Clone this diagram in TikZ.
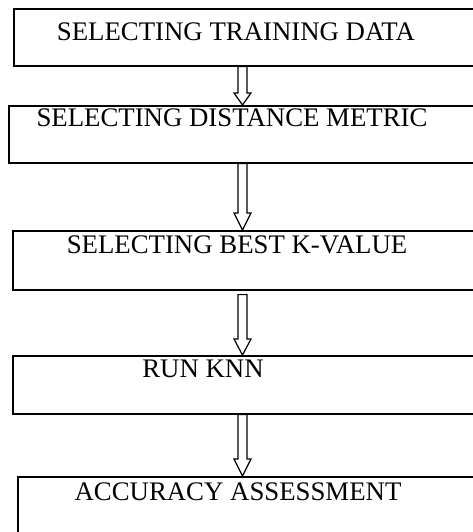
\documentclass[tikz,border=0pt]{standalone}
\usepackage{fontspec}
\setmainfont{Liberation Serif}
\usetikzlibrary{calc}
\begin{document}
\begin{tikzpicture}[x=1pt,y=-1pt,
  box/.style={draw, line width=1.6pt, rectangle, anchor=north west, inner sep=0pt, minimum width=480pt},
  lbl/.style={font=\fontsize{26.8}{30}\selectfont, anchor=base, inner sep=0pt},
  hollow/.style={draw, line width=1.2pt, line join=miter}]
\useasboundingbox (0,0) rectangle (473,532);
\clip (0,0) rectangle (473,532);
\coordinate (ax) at (242.5,0);
% boxes
\node[box, minimum height=57pt] (b1) at (13,8) {};
\node[box, minimum height=57pt] (b2) at (8,105) {};
\node[box, minimum height=59pt] (b3) at (12,230) {};
\node[box, minimum height=58pt] (b4) at (12,355) {};
\node[box, minimum height=80pt] (b5) at (17,476) {};
% labels
\node[lbl] (t1) at (236,41) {SELECTING TRAINING DATA};
\node[lbl] (t2) at (232,126) {SELECTING DISTANCE METRIC};
\node[lbl] (t3) at (237,253) {SELECTING BEST K-VALUE};
\node[lbl] (t4) at (203,377) {RUN KNN};
\node[lbl] (t5) at (238,500) {ACCURACY ASSESSMENT};
% hollow arrows: #1 from node, #2 to node, #3 head length, #4 start gap
\newcommand\harrow[4]{%
  \draw[hollow] let \p1=(ax |- #1.south), \p2=(ax |- #2.north) in
    (\x1-4.5pt,\y1-#4) -- (\x1-4.5pt,\y2+#3) -- (\x1-8.5pt,\y2+#3) -- (\x2,\y2)
    -- (\x1+8.5pt,\y2+#3) -- (\x1+4.5pt,\y2+#3) -- (\x1+4.5pt,\y1-#4) -- cycle;}
\harrow{b1}{b2}{12pt}{0pt}
\harrow{b2}{b3}{17pt}{0pt}
\harrow{b3}{b4}{16pt}{4pt}
\harrow{b4}{b5}{17pt}{0pt}
\end{tikzpicture}
\end{document}
